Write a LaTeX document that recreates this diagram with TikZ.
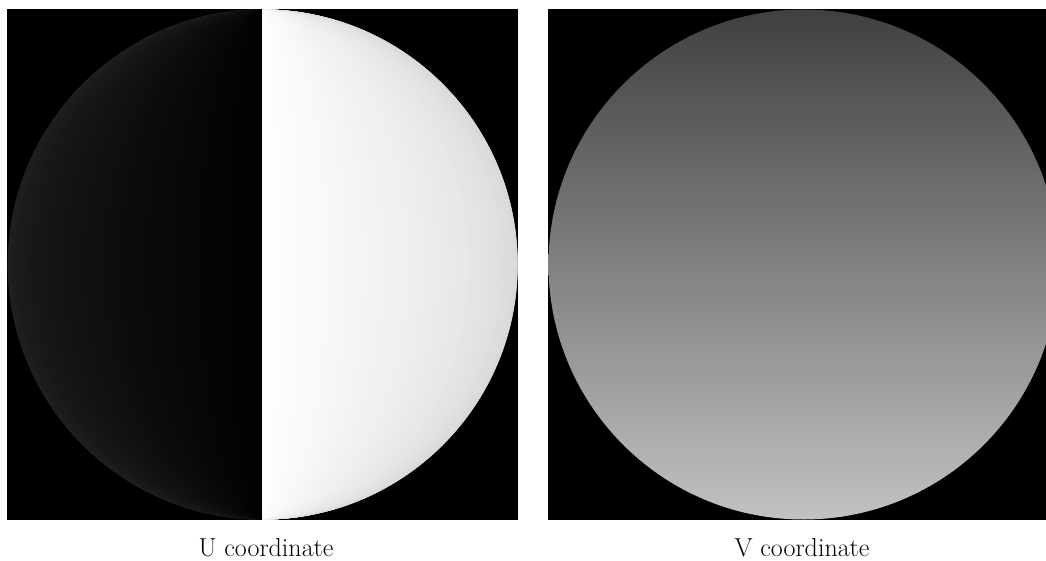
\documentclass[tikz,border=0pt]{standalone}
\tikzset{
    etichetta/.style={font=\fontsize{26}{30}\selectfont, anchor=base, inner sep=0pt}
}
\begin{document}
\begin{tikzpicture}[x=1pt,y=1pt]

        % Area complessiva dell'immagine
        \useasboundingbox (0,0) rectangle (1046,560);

        % Sfondi neri dei due riquadri
        \fill[black] (7,40) rectangle (518,551);
        \fill[black] (548,40) rectangle (1046,551);

        % Coordinata U: spicchi scuri a sinistra
        \foreach \a in {90,88,...,2} {
            \pgfmathsetmacro{\g}{100-13*\a/90}
            \pgfmathsetmacro{\rx}{255*sin(\a)}
            \fill[black!\g] (262.75,550.5) arc[start angle=90, end angle=270, x radius=\rx, y radius=255] -- cycle;
        }

        % Coordinata U: spicchi chiari a destra
        \foreach \a in {90,88,...,2} {
            \pgfmathsetmacro{\g}{16*\a/90}
            \pgfmathsetmacro{\rx}{255*sin(\a)}
            \fill[black!\g] (262.75,550.5) arc[start angle=90, end angle=-90, x radius=\rx, y radius=255] -- cycle;
        }

        % Coordinata V: sfumatura verticale
        \begin{scope}
            \clip (548,40) rectangle (1046,551);
            \shade[top color=black!75, bottom color=black!24] (803.5,295.5) circle[radius=255];
        \end{scope}

        % Didascalie
        \node[etichetta] (labelU) at (266,4) {U coordinate};
        \node[etichetta] (labelV) at (802,4) {V coordinate};

\end{tikzpicture}
\end{document}
